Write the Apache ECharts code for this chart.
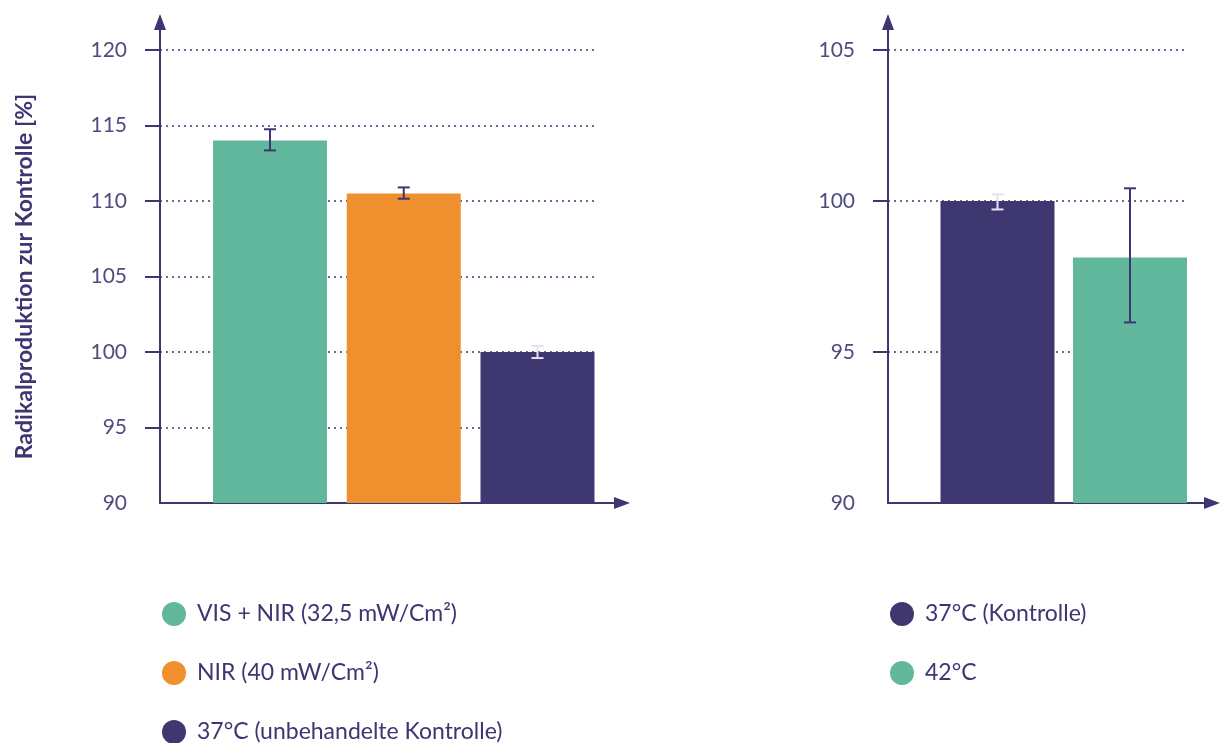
<!DOCTYPE html>
<html>
<head>
<meta charset="utf-8">
<script src="https://cdn.jsdelivr.net/npm/echarts@6/dist/echarts.min.js"></script>
<style>
html,body{margin:0;padding:0;background:#fff;}
#chart{width:1221px;height:743px;}
</style>
</head>
<body>
<div id="chart"></div>
<script>
// ---- data ----
const leftCategories = ['VIS + NIR (32,5 mW/Cm²)', 'NIR (40 mW/Cm²)', '37°C (unbehandelte Kontrolle)'];
const leftValues = [114.0, 110.5, 100.0];
const leftErrLow = [113.35, 110.15, 99.6];
const leftErrHigh = [114.75, 110.9, 100.4];
const leftTicks = [90, 95, 100, 105, 110, 115, 120];

const rightCategories = ['37°C (Kontrolle)', '42°C'];
const rightValues = [100.0, 98.13];
const rightErrLow = [99.72, 95.98];
const rightErrHigh = [100.22, 100.42];
const rightTicks = [90, 95, 100, 105];

const yAxisTitle = 'Radikalproduktion zur Kontrolle [%]';

// ---- styles ----
const GREEN = '#62b89c', ORANGE = '#f08f2d', PURPLE = '#3f3870';
const AXIS = '#3d3672', LABEL = '#4f4c80', LIGHT = '#e6e3f0';
const leftColors = [GREEN, ORANGE, PURPLE];
const leftErrColors = [AXIS, AXIS, LIGHT];
const rightColors = [PURPLE, GREEN];
const rightErrColors = [LIGHT, AXIS];
const FONT = 'Lato, "Open Sans", sans-serif';

// layout extents (axis units)
const L = { xMin: -0.8224, xMax: 2.6318, gridEnd: 2.4224, yMax: 121.854 };
const R = { xMin: -0.8264, xMax: 1.6189, gridEnd: 1.415, yMax: 105.927 };

function errRender(params, api) {
  const x = api.value(0), lo = api.value(1), hi = api.value(2);
  const pHi = api.coord([x, hi]), pLo = api.coord([x, lo]);
  const hw = 6;
  const style = { stroke: api.visual('color'), lineWidth: 2, fill: null };
  return {
    type: 'group',
    children: [
      { type: 'line', shape: { x1: pHi[0], y1: pHi[1], x2: pLo[0], y2: pLo[1] }, style },
      { type: 'line', shape: { x1: pHi[0] - hw, y1: pHi[1], x2: pHi[0] + hw, y2: pHi[1] }, style },
      { type: 'line', shape: { x1: pLo[0] - hw, y1: pLo[1], x2: pLo[0] + hw, y2: pLo[1] }, style }
    ]
  };
}

function makeX(idx, ext) {
  return {
    type: 'value', gridIndex: idx, min: ext.xMin, max: ext.xMax,
    axisLine: { show: true, onZero: false, symbol: ['none', 'triangle'], symbolSize: [12, 16],
      lineStyle: { color: AXIS, width: 2 } },
    axisTick: { show: false }, axisLabel: { show: false }, splitLine: { show: false }
  };
}
function makeY(idx, ext, ticks, withName) {
  const y = {
    type: 'value', gridIndex: idx, min: 90, max: ext.yMax,
    axisLine: { show: true, onZero: false, symbol: ['none', 'triangle'], symbolSize: [12, 16],
      lineStyle: { color: AXIS, width: 2 } },
    axisTick: { show: true, inside: false, length: 15, customValues: ticks.slice(1),
      lineStyle: { color: AXIS, width: 2 } },
    axisLabel: { show: true, customValues: ticks, margin: 33, fontSize: 21, fontWeight: 'normal',
      fontFamily: FONT, color: LABEL },
    splitLine: { show: false }
  };
  if (withName) {
    y.name = yAxisTitle;
    y.nameLocation = 'middle';
    y.nameRotate = 90;
    y.nameGap = 124;
    y.nameTextStyle = { fontSize: 23, fontWeight: 'bold', fontFamily: FONT, color: AXIS, padding: [0, 28, 0, 0] };
  }
  return y;
}

function gridLines(ticks, ext) {
  return ticks.slice(1).map(v => [{ coord: [ext.xMin, v] }, { coord: [ext.gridEnd, v] }]);
}

const series = [];
leftCategories.forEach((name, i) => {
  const s = {
    type: 'bar', name, xAxisIndex: 0, yAxisIndex: 0,
    data: [[i, leftValues[i]]], barWidth: 114, barGap: '-100%',
    itemStyle: { color: leftColors[i] }, z: 2, silent: true
  };
  if (i === 0) {
    s.markLine = { silent: true, symbol: 'none', z: 1, label: { show: false },
      lineStyle: { color: AXIS, type: [2, 4], width: 1.6 }, data: gridLines(leftTicks, L) };
  }
  series.push(s);
});
rightCategories.forEach((name, i) => {
  const s = {
    type: 'bar', name, xAxisIndex: 1, yAxisIndex: 1,
    data: [[i, rightValues[i]]], barWidth: 114, barGap: '-100%',
    itemStyle: { color: rightColors[i] }, z: 2, silent: true
  };
  if (i === 0) {
    s.markLine = { silent: true, symbol: 'none', z: 1, label: { show: false },
      lineStyle: { color: AXIS, type: [2, 4], width: 1.6 }, data: gridLines(rightTicks, R) };
  }
  series.push(s);
});
series.push({
  type: 'custom', xAxisIndex: 0, yAxisIndex: 0, z: 5, silent: true, renderItem: errRender,
  data: leftValues.map((v, i) => ({ value: [i, leftErrLow[i], leftErrHigh[i]], itemStyle: { color: leftErrColors[i] } }))
});
series.push({
  type: 'custom', xAxisIndex: 1, yAxisIndex: 1, z: 5, silent: true, renderItem: errRender,
  data: rightValues.map((v, i) => ({ value: [i, rightErrLow[i], rightErrHigh[i]], itemStyle: { color: rightErrColors[i] } }))
});

const legendBase = {
  orient: 'vertical', top: 602, height: 200, itemWidth: 24, itemHeight: 24, itemGap: 35, icon: 'circle',
  padding: 0, selectedMode: false,
  textStyle: { fontSize: 23, fontFamily: FONT, color: AXIS, lineHeight: 24, padding: [0, 0, 0, 6] }
};

const option = {
  animation: false,
  backgroundColor: '#ffffff',
  grid: [
    { left: 160, top: 22, width: 462, bottom: 240 },
    { left: 888, top: 22, width: 324, bottom: 240 }
  ],
  xAxis: [makeX(0, L), makeX(1, R)],
  yAxis: [makeY(0, L, leftTicks, true), makeY(1, R, rightTicks, false)],
  legend: [
    Object.assign({}, legendBase, { left: 162, data: leftCategories }),
    Object.assign({}, legendBase, { left: 890, data: rightCategories })
  ],
  series
};

const chart = echarts.init(document.getElementById('chart'), null, { renderer: 'canvas' });
chart.setOption(option);
</script>
</body>
</html>
